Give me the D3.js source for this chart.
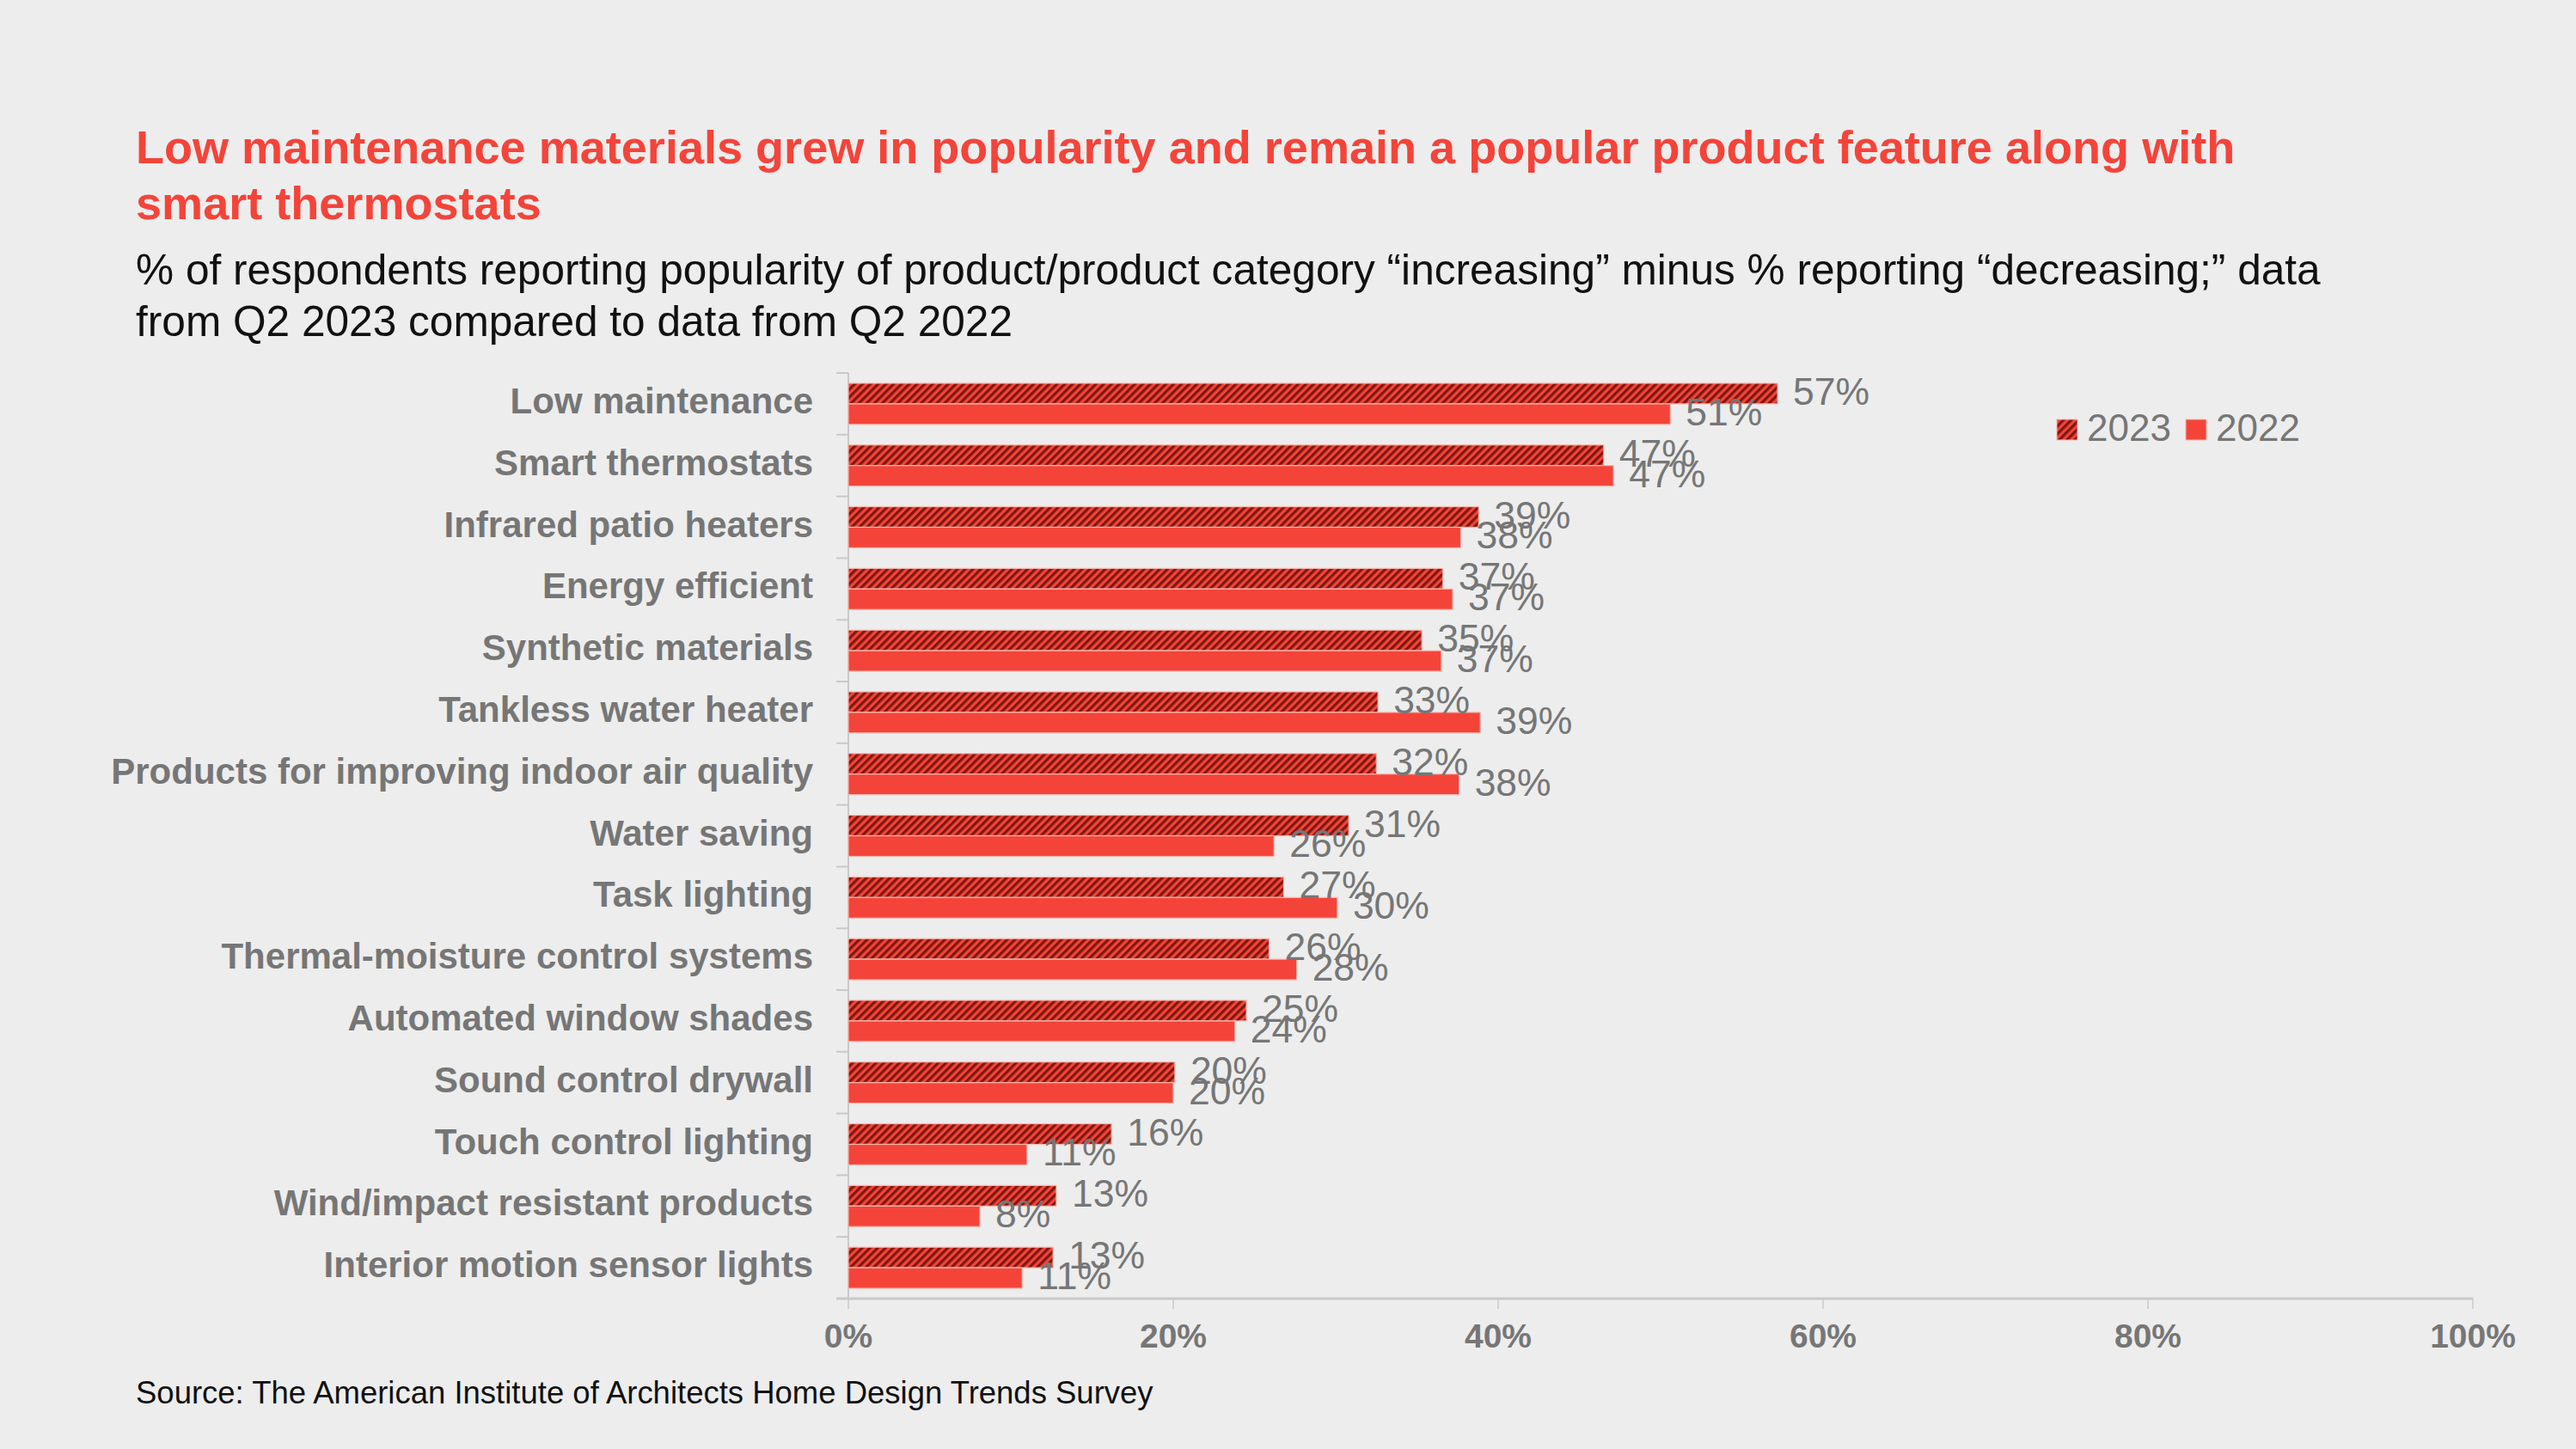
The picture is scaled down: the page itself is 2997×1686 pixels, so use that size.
<!DOCTYPE html>
<html>
<head>
<meta charset="utf-8">
<script src="https://cdn.jsdelivr.net/npm/d3@7"></script>
<style>
  html, body { margin: 0; padding: 0; background: #ededed; }
  svg { display: block; }
  text { font-family: "Liberation Sans", Arial, sans-serif; }
</style>
</head>
<body>
<script>
const categories = [
  "Low maintenance",
  "Smart thermostats",
  "Infrared patio heaters",
  "Energy efficient",
  "Synthetic materials",
  "Tankless water heater",
  "Products for improving indoor air quality",
  "Water saving",
  "Task lighting",
  "Thermal-moisture control systems",
  "Automated window shades",
  "Sound control drywall",
  "Touch control lighting",
  "Wind/impact resistant products",
  "Interior motion sensor lights"
];
const series = ["2023", "2022"];
const values2023 = [0.572, 0.465, 0.388, 0.366, 0.353, 0.326, 0.325, 0.308, 0.268, 0.259, 0.245, 0.201, 0.162, 0.128, 0.126];
const values2022 = [0.506, 0.471, 0.377, 0.372, 0.365, 0.389, 0.376, 0.262, 0.301, 0.276, 0.238, 0.200, 0.110, 0.081, 0.107];
const labels2023 = ["57%", "47%", "39%", "37%", "35%", "33%", "32%", "31%", "27%", "26%", "25%", "20%", "16%", "13%", "13%"];
const labels2022 = ["51%", "47%", "38%", "37%", "37%", "39%", "38%", "26%", "30%", "28%", "24%", "20%", "11%", "8%", "11%"];
const xTicks = [0, 0.2, 0.4, 0.6, 0.8, 1.0];
const titleLines = [
  "Low maintenance materials grew in popularity and remain a popular product feature along with",
  "smart thermostats"
];
const subtitleLines = [
  "% of respondents reporting popularity of product/product category \u201cincreasing\u201d minus % reporting \u201cdecreasing;\u201d data",
  "from Q2 2023 compared to data from Q2 2022"
];
const sourceText = "Source: The American Institute of Architects Home Design Trends Survey";

const W = 2997, H = 1686;
const RED = "#f4443a", DARK = "#7d1810", GRAY = "#767676", AXIS = "#c9c9c9";

const svg = d3.select("body").append("svg").attr("width", W).attr("height", H);
svg.append("rect").attr("width", W).attr("height", H).attr("fill", "#ededed");

const defs = svg.append("defs");
const pat = defs.append("pattern")
  .attr("id", "hatch").attr("patternUnits", "userSpaceOnUse")
  .attr("width", 6.4).attr("height", 6.4)
  .attr("patternTransform", "rotate(45)");
pat.append("rect").attr("width", 6.4).attr("height", 6.4).attr("fill", RED);
pat.append("rect").attr("width", 3.2).attr("height", 6.4).attr("fill", DARK);

const seriesData = { "2023": values2023, "2022": values2022 };
const seriesLabels = { "2023": labels2023, "2022": labels2022 };
const seriesFill = { "2023": "url(#hatch)", "2022": RED };

const x = d3.scaleLinear().domain([0, 1]).range([987, 2877]);
const y = d3.scaleBand().domain(categories).range([434, 1511]).padding(0);
const bw = y.bandwidth();
const y1 = d3.scaleBand().domain(series).range([bw / 6, bw * 5 / 6]).padding(0);

function fitText(sel, targetWidth, baseSize) {
  sel.attr("font-size", baseSize);
  const w = sel.node().getComputedTextLength();
  sel.attr("font-size", baseSize * targetWidth / w);
}

// Title
const t1 = svg.append("text").attr("x", 158).attr("y", 190).attr("fill", RED).attr("font-weight", "bold").text(titleLines[0]);
fitText(t1, 2443, 50);
const tsize = +t1.attr("font-size");
svg.append("text").attr("x", 158).attr("y", 255).attr("fill", RED).attr("font-weight", "bold").attr("font-size", tsize).text(titleLines[1]);

// Subtitle
const s1 = svg.append("text").attr("x", 158).attr("y", 331).attr("fill", "#111").text(subtitleLines[0]);
fitText(s1, 2542, 44);
const ssize = +s1.attr("font-size");
svg.append("text").attr("x", 158).attr("y", 391).attr("fill", "#111").attr("font-size", ssize).text(subtitleLines[1]);

// Source
const src = svg.append("text").attr("x", 158).attr("y", 1633).attr("fill", "#111").text(sourceText);
fitText(src, 1184, 35);

// Y axis line and ticks
const g = svg.append("g");
g.append("line").attr("x1", x(0)).attr("x2", x(0)).attr("y1", 434).attr("y2", 1511)
  .attr("stroke", AXIS).attr("stroke-width", 2);
g.selectAll(".ytick").data(categories).enter().append("line")
  .attr("x1", x(0) - 14).attr("x2", x(0))
  .attr("y1", d => y(d)).attr("y2", d => y(d))
  .attr("stroke", AXIS).attr("stroke-width", 2);

// Category labels
g.selectAll(".cat").data(categories).enter().append("text")
  .attr("x", 946).attr("y", d => y(d) + bw / 2 + 11)
  .attr("text-anchor", "end").attr("font-weight", "bold")
  .attr("font-size", 42).attr("fill", GRAY).text(d => d);

// Bars
series.forEach(s => {
  g.selectAll(".bar" + s).data(categories).enter().append("rect")
    .attr("x", x(0))
    .attr("y", d => y(d) + y1(s))
    .attr("width", (d, i) => x(seriesData[s][i]) - x(0))
    .attr("height", y1.bandwidth())
    .attr("fill", seriesFill[s])
    .attr("stroke", "#f6b8ae").attr("stroke-width", 1.2);
});

// Value labels
series.forEach(s => {
  g.selectAll(".lab" + s).data(categories).enter().append("text")
    .attr("x", (d, i) => x(seriesData[s][i]) + 18)
    .attr("y", d => y(d) + y1(s) + y1.bandwidth() / 2 + 13)
    .attr("font-size", 44.5).attr("fill", GRAY)
    .text((d, i) => seriesLabels[s][i]);
});

// X axis
g.append("line").attr("x1", 973).attr("x2", x(1)).attr("y1", 1511).attr("y2", 1511)
  .attr("stroke", AXIS).attr("stroke-width", 3);
g.selectAll(".xtick").data(xTicks).enter().append("line")
  .attr("x1", d => x(d)).attr("x2", d => x(d)).attr("y1", 1511).attr("y2", 1523)
  .attr("stroke", AXIS).attr("stroke-width", 1.5);
g.selectAll(".xlab").data(xTicks).enter().append("text")
  .attr("x", d => x(d)).attr("y", 1568).attr("text-anchor", "middle")
  .attr("font-weight", "bold").attr("font-size", 39).attr("fill", GRAY)
  .text(d => d3.format(".0%")(d));

// Legend
const leg = svg.append("g");
const legX = [2393, 2543];
series.forEach((s, i) => {
  leg.append("rect").attr("x", legX[i]).attr("y", 488).attr("width", 24).attr("height", 24)
    .attr("fill", seriesFill[s]).attr("stroke", "#f6b8ae").attr("stroke-width", 1);
  leg.append("text").attr("x", legX[i] + 35).attr("y", 513)
    .attr("font-size", 44).attr("fill", GRAY).text(s);
});
</script>
</body>
</html>
